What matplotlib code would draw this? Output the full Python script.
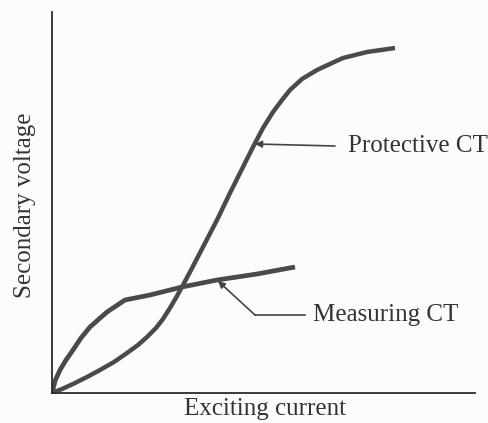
"""
CT excitation characteristics: protective vs measuring current transformer
"""

import matplotlib.pyplot as plt

# Curve readings (arbitrary units)
protective_x = [0, 10, 21, 35, 48, 62, 75, 86, 95, 104, 111, 118, 125, 131,
                138, 151, 165, 178, 188, 201, 211, 221, 230, 238, 250, 265,
                280, 291, 315, 343]
protective_y = [0, 4, 9, 16, 23, 31, 40, 48, 56, 65, 74, 85, 97, 108,
                121, 146, 173, 200, 220, 246, 265, 281, 293, 303, 314, 323,
                330, 335, 341, 345]

measuring_x = [0, 3, 8, 14, 21, 29, 38, 47, 55, 64, 73, 98, 130, 165,
               205, 243]
measuring_y = [0, 12, 23, 33, 43, 55, 66, 74, 81, 87, 93, 98, 106, 113,
               119, 126]

labels = {'protective': 'Protective CT', 'measuring': 'Measuring CT'}
x_label = 'Exciting current'
y_label = 'Secondary voltage'

W, H = 489, 423
fig = plt.figure(figsize=(W / 100, H / 100), dpi=100)
fig.patch.set_facecolor('#fcfcfc')

ax = fig.add_axes([52 / W, 30 / H, 423 / W, 381 / H])
ax.set_facecolor('none')
ax.set_xlim(0, 423)
ax.set_ylim(0, 381)
for side in ('top', 'right'):
    ax.spines[side].set_visible(False)
for side in ('left', 'bottom'):
    ax.spines[side].set_color('#2a2a2a')
    ax.spines[side].set_linewidth(1.3)
ax.set_xticks([])
ax.set_yticks([])

curve_color = '#4a4a4a'
ax.plot(protective_x, protective_y, color=curve_color, linewidth=3.2,
        solid_joinstyle='round', solid_capstyle='butt')
ax.plot(measuring_x, measuring_y, color=curve_color, linewidth=3.4,
        solid_joinstyle='round', solid_capstyle='butt')

font = dict(family='Liberation Serif', color='#333333')
fs = 18

# Protective CT label and arrow
ax.annotate('', xy=(203, 249), xytext=(283, 247),
            arrowprops=dict(arrowstyle='-|>', color='#444444', lw=1.2,
                            mutation_scale=10, shrinkA=0, shrinkB=0))
ax.text(296, 247, labels['protective'], fontsize=fs, va='center', **font)

# Measuring CT label and bent arrow
ax.plot([253, 203], [78, 78], color='#444444', lw=1.2)
ax.annotate('', xy=(166, 112), xytext=(203, 78),
            arrowprops=dict(arrowstyle='-|>', color='#444444', lw=1.2,
                            mutation_scale=10, shrinkA=0, shrinkB=0))
ax.text(261, 78, labels['measuring'], fontsize=fs, va='center', **font)

fig.text(265 / W, 1 - 409 / H, x_label, fontsize=fs, ha='center',
         va='center', **font)
fig.text(25 / W, 1 - 205 / H, y_label, fontsize=fs, ha='center',
         va='center', rotation=90, **font)

fig.savefig('out.png', dpi=100, facecolor=fig.get_facecolor())
